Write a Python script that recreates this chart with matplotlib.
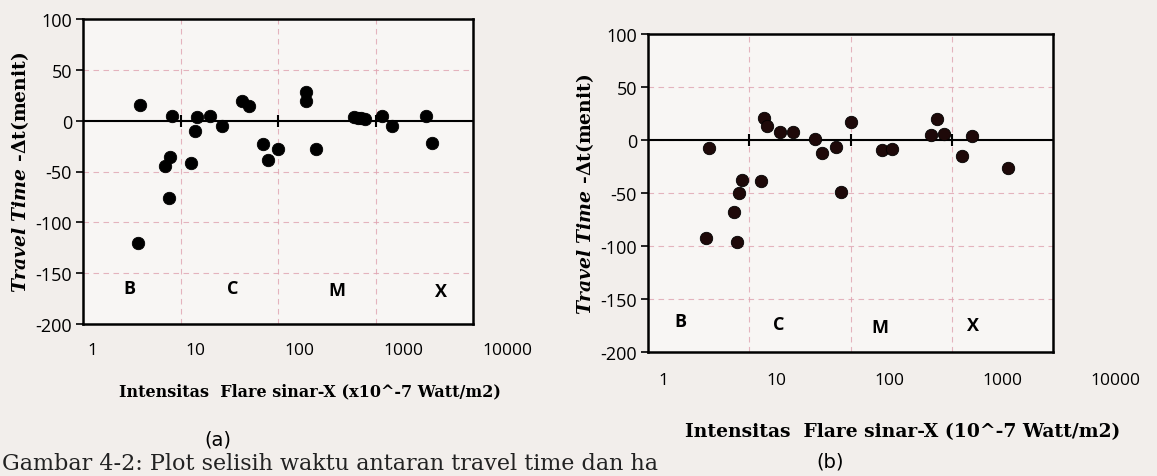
import numpy as np
import matplotlib
matplotlib.use('Agg')
from matplotlib import pyplot as plt

# panel (a): intensity (x10^-7 W/m2) vs travel time difference (menit)
flux_a = [3.8, 3.7, 7.0, 7.8, 7.6, 8.2, 12.9, 14.0, 14.9, 19.9, 26.9, 43, 51,
          71, 79, 100, 195, 195, 247, 597, 661, 716, 787, 1175, 1466, 3270,
          3830]
dt_a = [15.5, -120, -45, -35.5, -76, 5, -42, -10, 4, 5, -5, 19, 14.5,
        -22.5, -38.7, -28, 28, 19, -28, 4, 3, 2.5, 2, 5, -5, 5, -22]

# panel (b)
flux_b = [3.7, 3.96, 7.1, 7.6, 7.9, 8.5, 13.1, 14.0, 15.1, 20.1, 27.3, 44.7,
          52.8, 72.7, 80.8, 100.7, 204, 257, 629, 721, 833, 1257, 1567, 3556]
dt_b = [-92, -8, -68, -96.5, -50, -38, -38.5, 20.5, 13, 7.7, 7.2, 1.3, -12.3,
        -6.2, -48.6, 17, -9.3, -8.7, 5, 19.7, 6, -14.7, 3.8, -26.8]

decades = [1, 10, 100, 1000, 10000]
decade_labels = ['1', '10', '100', '1000', '10000']
yticks = [-200, -150, -100, -50, 0, 50, 100]

classes = ['B', 'C', 'M', 'X']
class_x_a = [3.0, 34, 400, 4700]
class_y_a = [-165, -165, -167, -168]
class_x_b = [2.1, 19.4, 194, 1614]
class_y_b = [-171, -174, -176, -175]

W, H = 1157, 477
PAPER = '#f2eeeb'
GRID = '#dfa3b0'
TICKFONT = 'Open Sans'

plt.rcParams['mathtext.fontset'] = 'dejavuserif'


def px_axes(fig, left, top, right, bottom, **kw):
    """Add axes from pixel box (origin top-left)."""
    return fig.add_axes([left / W, 1 - bottom / H, (right - left) / W,
                         (bottom - top) / H], **kw)


def draw_panel(ax, x, y, cls_x, cls_y, dot_color, fs_tick=13):
    ax.set_facecolor('#f8f6f4')
    ax.set_xscale('log')
    ax.set_xlim(decades[0], decades[-1])
    ax.set_ylim(-200, 100)
    ax.set_yticks(yticks)
    ax.set_yticklabels([str(v) for v in yticks], fontsize=fs_tick,
                       family=TICKFONT)
    ax.set_xticks(decades)
    ax.set_xticklabels([])
    ax.xaxis.set_minor_locator(matplotlib.ticker.NullLocator())
    ax.tick_params(axis='y', direction='out', length=5, width=1.2, pad=3)
    ax.tick_params(axis='x', length=0)
    for s in ax.spines.values():
        s.set_linewidth(1.8)
    ax.grid(True, color=GRID, linestyle=(0, (5, 4)), linewidth=0.8,
            alpha=0.8)
    ax.set_axisbelow(True)

    # axis crossing at zero with decade tick marks
    ax.axhline(0, color='black', lw=1.5, zorder=2)
    ax.vlines(decades[1:-1], -6, 6, color='black', lw=1.5, zorder=2)

    ax.scatter(x, y, s=80, color=dot_color, edgecolors='black',
               linewidths=0.6, zorder=3)

    for c, cx, cy in zip(classes, cls_x, cls_y):
        ax.text(cx, cy, c, ha='center', va='center', fontsize=13,
                fontweight='bold', family=TICKFONT)


def label_axis(fig, left, right, y, fs):
    """Row of decade labels below a panel (scan has them spread wider)."""
    lab = px_axes(fig, left, y - 1, right, y, frameon=False)
    lab.set_xscale('log')
    lab.set_xlim(decades[0], decades[-1])
    lab.set_xticks(decades)
    lab.xaxis.set_minor_locator(matplotlib.ticker.NullLocator())
    lab.set_xticklabels(decade_labels, fontsize=fs, family=TICKFONT)
    lab.tick_params(axis='x', length=0, pad=1)
    lab.set_yticks([])
    lab.patch.set_alpha(0)
    return lab


fig = plt.figure(figsize=(W / 100, H / 100), dpi=100, facecolor=PAPER)

ax_a = px_axes(fig, 83, 20, 473, 325)
draw_panel(ax_a, flux_a, dt_a, class_x_a, class_y_a, 'black')
label_axis(fig, 92, 507, 342, 12.5)
ax_a.set_ylabel(r'$\mathbfit{Travel\ Time}$ -Δt(menit)', fontsize=13.5,
                family='DejaVu Serif', fontweight='bold', labelpad=3)
fig.text(310 / W, 1 - 392 / H, 'Intensitas  Flare sinar-X (x10^-7 Watt/m2)',
         ha='center', va='center', fontsize=11.5, family='DejaVu Serif',
         fontweight='bold')
fig.text(218 / W, 1 - 440 / H, '(a)', ha='center', va='center',
         fontsize=14, family='Liberation Sans Narrow')

ax_b = px_axes(fig, 648, 35, 1053, 353)
draw_panel(ax_b, flux_b, dt_b, class_x_b, class_y_b, '#1e0909')
label_axis(fig, 663, 1115, 372, 12.5)
ax_b.set_ylabel(r'$\mathbfit{Travel\ Time}$ -Δt(menit)', fontsize=13.5,
                family='DejaVu Serif', fontweight='bold', labelpad=3)
fig.text(903 / W, 1 - 432 / H, 'Intensitas  Flare sinar-X (10^-7 Watt/m2)',
         ha='center', va='center', fontsize=13.5, family='DejaVu Serif',
         fontweight='bold')
fig.text(830 / W, 1 - 462 / H, '(b)', ha='center', va='center',
         fontsize=14, family='Liberation Sans Narrow')

fig.text(2 / W, 1 - 470 / H,
         'Gambar 4-2: Plot selisih waktu antaran travel time dan ha',
         ha='left', va='baseline', fontsize=16, family='DejaVu Serif',
         color='#222222')

fig.savefig('out.png', dpi=100, facecolor=PAPER)
